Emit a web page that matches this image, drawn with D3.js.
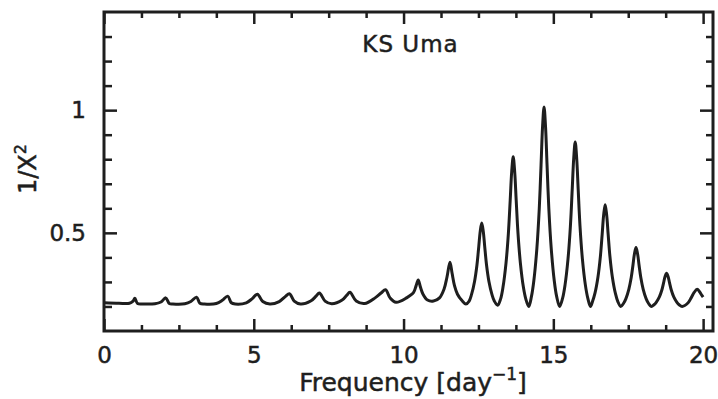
<!DOCTYPE html>
<html>
<head>
<meta charset="utf-8">
<script src="https://cdn.jsdelivr.net/npm/d3@7"></script>
<style>
  body { margin: 0; background: #fff; }
  svg text { font-family: "DejaVu Sans", sans-serif; fill: #1e1e1e; stroke: #1e1e1e; stroke-width: 0.5px; }
</style>
</head>
<body>
<svg width="718" height="399"></svg>
<script>
// periodogram of KS Uma
const freq = [
  0.0, 0.5, 0.85, 0.97, 1.03, 1.12, 1.3, 1.7, 1.9, 2.06, 2.18, 2.3, 2.7, 2.9, 3.09, 3.2, 3.35,
  3.75, 3.95, 4.13, 4.25, 4.38, 4.75, 4.95, 5.12, 5.3, 5.54, 5.85, 6.05, 6.19, 6.35, 6.56,
  6.9, 7.08, 7.19, 7.38, 7.6, 7.95, 8.1, 8.21, 8.42, 8.7, 9.05, 9.25, 9.4, 9.55, 9.75,
  10.1, 10.33, 10.42, 10.49, 10.56, 10.65, 10.8, 11.0, 11.2, 11.35, 11.45, 11.55, 11.62,
  11.7, 11.8, 11.95, 12.08,
  12.19, 12.27, 12.37, 12.45, 12.51, 12.56, 12.61, 12.66, 12.71, 12.77, 12.85, 12.95, 13.03, 13.14,
  13.24, 13.32, 13.42, 13.5, 13.56, 13.61, 13.66, 13.71, 13.76, 13.82, 13.9, 14.0, 14.08, 14.18,
  14.27, 14.35, 14.45, 14.53, 14.59, 14.64, 14.69, 14.74, 14.79, 14.85, 14.93, 15.03, 15.11, 15.21,
  15.31, 15.39, 15.49, 15.57, 15.63, 15.68, 15.73, 15.78, 15.83, 15.89, 15.97, 16.07, 16.15, 16.24,
  16.31, 16.39, 16.49, 16.57, 16.63, 16.68, 16.73, 16.78, 16.83, 16.89, 16.97, 17.07, 17.15, 17.25,
  17.34, 17.42, 17.52, 17.6, 17.66, 17.71, 17.76, 17.81, 17.86, 17.92, 18.0, 18.1, 18.18, 18.27,
  18.36, 18.44, 18.54, 18.62, 18.68, 18.73, 18.78, 18.83, 18.88, 18.94, 19.02, 19.12, 19.2, 19.3,
  19.5, 19.6, 19.7, 19.8, 19.88, 19.96, 20.0
];
const power = [
  0.215, 0.213, 0.213, 0.222, 0.233, 0.212, 0.21, 0.211, 0.218, 0.235, 0.212, 0.21, 0.211, 0.22, 0.238, 0.213, 0.21,
  0.212, 0.225, 0.242, 0.215, 0.21, 0.215, 0.232, 0.25, 0.22, 0.21, 0.22, 0.24, 0.252, 0.222, 0.21,
  0.222, 0.242, 0.255, 0.222, 0.211, 0.226, 0.245, 0.258, 0.222, 0.212, 0.235, 0.255, 0.268, 0.235, 0.217,
  0.235, 0.256, 0.285, 0.308, 0.28, 0.25, 0.226, 0.222, 0.235, 0.27, 0.32, 0.38, 0.335,
  0.285, 0.25, 0.224, 0.21,
  0.222, 0.249, 0.302, 0.369, 0.443, 0.507, 0.54, 0.507, 0.443, 0.369, 0.302, 0.249, 0.222, 0.205,
  0.231, 0.279, 0.377, 0.499, 0.633, 0.749, 0.81, 0.749, 0.633, 0.499, 0.377, 0.279, 0.231, 0.2,
  0.241, 0.306, 0.436, 0.598, 0.777, 0.932, 1.013, 0.932, 0.777, 0.598, 0.436, 0.306, 0.241, 0.2,
  0.234, 0.287, 0.394, 0.528, 0.676, 0.803, 0.87, 0.803, 0.676, 0.528, 0.394, 0.287, 0.234, 0.2,
  0.221, 0.254, 0.32, 0.403, 0.494, 0.573, 0.614, 0.573, 0.494, 0.403, 0.32, 0.254, 0.221, 0.2,
  0.212, 0.231, 0.27, 0.318, 0.37, 0.416, 0.44, 0.416, 0.37, 0.318, 0.27, 0.231, 0.212, 0.2,
  0.207, 0.218, 0.239, 0.266, 0.296, 0.322, 0.335, 0.322, 0.296, 0.266, 0.239, 0.218, 0.207, 0.2,
  0.215, 0.235, 0.257, 0.27, 0.26, 0.245, 0.238
];

const xMajor = [0, 5, 10, 15, 20];
const xMinor = [1.25, 2.5, 3.75, 6.25, 7.5, 8.75, 11.25, 12.5, 13.75, 16.25, 17.5, 18.75];
const yMajor = [0.5, 1];
const yMinor = [0.2, 0.3, 0.4, 0.6, 0.7, 0.8, 0.9, 1.1, 1.2, 1.3];

let margin = { top: 12, right: 5, bottom: 68, left: 104 },
  width = 718 - margin.left - margin.right,
  height = 399 - margin.top - margin.bottom;

let svg = d3.select("svg");
let g = svg.append("g").attr("transform", `translate(${margin.left},${margin.top})`);

const x = d3.scaleLinear().domain([0, 20.33]).range([0, width]);
const y = d3.scaleLinear().domain([0.1, 1.4]).range([height, 0]);

const ink = "#1e1e1e";

function tickAxis(axis, values, size, label, pad) {
  const a = axis.tickValues(values).tickSize(size).tickPadding(pad || 0);
  if (!label) a.tickFormat("");
  else a.tickFormat(d3.format("~g"));
  return a;
}

// bottom + top
g.append("g").attr("transform", `translate(0,${height})`)
  .call(tickAxis(d3.axisBottom(x), xMajor, -12, true, 16));
g.append("g").attr("transform", `translate(0,${height})`)
  .call(tickAxis(d3.axisBottom(x), xMinor, -6));
g.append("g").call(tickAxis(d3.axisTop(x), xMajor, -12));
g.append("g").call(tickAxis(d3.axisTop(x), xMinor, -6));
// left + right
g.append("g").call(tickAxis(d3.axisLeft(y), yMajor, -13, true, 18));
g.append("g").call(tickAxis(d3.axisLeft(y), yMinor, -8));
g.append("g").attr("transform", `translate(${width},0)`).call(tickAxis(d3.axisRight(y), yMajor, -13));
g.append("g").attr("transform", `translate(${width},0)`).call(tickAxis(d3.axisRight(y), yMinor, -7));

g.selectAll(".domain").remove();
g.selectAll(".tick line").attr("stroke", ink).attr("stroke-width", 2.5);
g.selectAll(".tick text").attr("font-size", "23px").attr("fill", ink);

// curve
const line = d3.line()
  .x((d) => x(d[0]))
  .y((d) => y(d[1]))
  .curve(d3.curveCatmullRom.alpha(0.5));

g.append("path")
  .datum(d3.zip(freq, power))
  .attr("d", line)
  .attr("fill", "none")
  .attr("stroke", ink)
  .attr("stroke-width", 3)
  .attr("stroke-linejoin", "round");

// frame
g.append("rect")
  .attr("width", width)
  .attr("height", height)
  .attr("fill", "none")
  .attr("stroke", ink)
  .attr("stroke-width", 3);

// title
g.append("text")
  .attr("x", width / 2 + 2)
  .attr("y", 40)
  .attr("text-anchor", "middle")
  .attr("font-size", "23px")
  .attr("letter-spacing", "1px")
  .text("KS Uma");

// x label
const xl = svg.append("text")
  .attr("x", 413)
  .attr("y", 391)
  .attr("text-anchor", "middle")
  .attr("font-size", "25px");
xl.append("tspan").text("Frequency [day");
xl.append("tspan").attr("font-size", "17px").attr("dy", -11).text("\u22121");
xl.append("tspan").attr("dy", 11).text("]");

// y label
const yl = svg.append("text")
  .attr("transform", "translate(36,169) rotate(-90)")
  .attr("text-anchor", "middle")
  .attr("font-size", "24px");
yl.append("tspan").text("1/X");
yl.append("tspan").attr("font-size", "16px").attr("dy", -10).text("2");
</script>
</body>
</html>
